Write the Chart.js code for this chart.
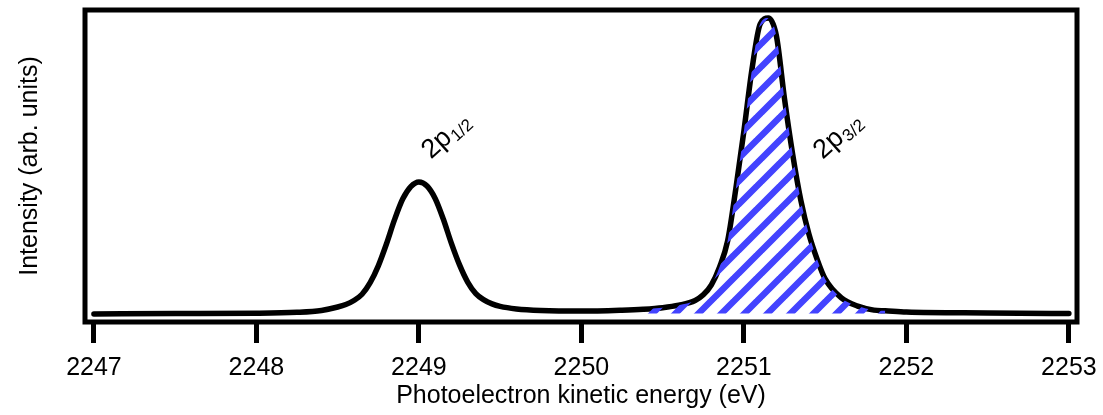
<!DOCTYPE html>
<html>
<head>
<meta charset="utf-8">
<script src="https://cdn.jsdelivr.net/npm/chart.js@4.4.0/dist/chart.umd.min.js"></script>
<style>
  html, body { margin: 0; padding: 0; background: #fff; }
</style>
</head>
<body>
<canvas id="chart" width="1103" height="415"></canvas>
<script>
// photoelectron kinetic energy (eV)
const energy = [
  2247.0, 2247.5, 2248.0, 2248.25, 2248.4, 2248.5, 2248.55, 2248.6, 2248.65,
  2248.7, 2248.75, 2248.8, 2248.85, 2248.9, 2248.95, 2249.0, 2249.05, 2249.1,
  2249.15, 2249.2, 2249.25, 2249.3, 2249.35, 2249.4, 2249.45, 2249.5, 2249.6,
  2249.75, 2250.0, 2250.25, 2250.38, 2250.5, 2250.6, 2250.7, 2250.75, 2250.8,
  2250.85, 2250.9, 2250.95, 2251.0, 2251.05, 2251.1, 2251.15, 2251.2, 2251.25,
  2251.3, 2251.35, 2251.4, 2251.45, 2251.5, 2251.6, 2251.7, 2251.8, 2251.87,
  2252.0, 2252.5, 2253.0
];
// intensity (arb. units)
const intensity = [
  2.6, 2.7, 2.8, 3.1, 3.7, 4.8, 5.6, 6.9, 8.9,
  12.6, 18.0, 25.0, 32.8, 39.4, 43.4, 44.9, 43.6, 39.6,
  33.0, 25.2, 18.3, 12.8, 9.1, 7.1, 5.8, 5.0, 4.2,
  3.7, 3.5, 3.8, 4.1, 4.6, 5.4, 6.9, 8.7, 11.9,
  17.6, 26.0, 42.6, 61.2, 81.1, 95.5, 97.4, 91.7, 71.5,
  53.8, 39.1, 28.2, 20.2, 13.8, 7.7, 5.1, 3.8, 3.6,
  3.2, 2.9, 2.7
];
const tickValues = [2247, 2248, 2249, 2250, 2251, 2252, 2253];
const hatchRange = [2250.38, 2251.87];
const hatchBase = 2.7;
const peakNames = ["2p", "2p"];
const peakSubs = ["1/2", "3/2"];
const peakLabelX = [2249.074, 2251.486];
const peakLabelY = [52.0, 51.9];

const FONT = "'Liberation Sans', Arial, sans-serif";

function makeHatch() {
  const s = 23;
  const c = document.createElement("canvas");
  c.width = s;
  c.height = s;
  const g = c.getContext("2d");
  g.strokeStyle = "#4343ff";
  g.lineWidth = 6.5;
  g.beginPath();
  [-s, 0, s].forEach((x0) => {
    g.moveTo(x0 - 2, s + 2);
    g.lineTo(x0 + s + 2, -2);
  });
  g.stroke();
  return document.getElementById("chart").getContext("2d").createPattern(c, "repeat");
}

const curvePoints = energy.map((e, i) => ({ x: e, y: intensity[i] }));
const hatchPoints = curvePoints.filter(
  (p) => p.x >= hatchRange[0] && p.x <= hatchRange[1]
);

const framePlugin = {
  id: "frame",
  afterDraw(chart) {
    const { ctx, chartArea: a } = chart;
    ctx.save();
    ctx.lineWidth = 5;
    ctx.strokeStyle = "#000";
    ctx.strokeRect(a.left, a.top, a.right - a.left, a.bottom - a.top);
    ctx.restore();
  },
};

const peakLabelPlugin = {
  id: "peakLabels",
  afterDatasetsDraw(chart) {
    const { ctx, scales } = chart;
    peakNames.forEach((name, i) => {
      ctx.save();
      ctx.translate(
        scales.x.getPixelForValue(peakLabelX[i]),
        scales.y.getPixelForValue(peakLabelY[i])
      );
      ctx.rotate((-42 * Math.PI) / 180);
      ctx.fillStyle = "#000";
      ctx.textBaseline = "alphabetic";
      ctx.font = "27px " + FONT;
      ctx.fillText(name, 0, 0);
      const w = ctx.measureText(name).width;
      ctx.font = "17px " + FONT;
      ctx.fillText(peakSubs[i], w + 1, 4);
      ctx.restore();
    });
  },
};

new Chart(document.getElementById("chart").getContext("2d"), {
  type: "line",
  data: {
    datasets: [
      {
        data: hatchPoints,
        borderWidth: 0,
        pointRadius: 0,
        backgroundColor: makeHatch(),
        fill: { value: hatchBase },
        cubicInterpolationMode: "monotone",
      },
      {
        data: curvePoints,
        borderColor: "#000",
        borderWidth: 5.5,
        borderCapStyle: "round",
        borderJoinStyle: "round",
        pointRadius: 0,
        fill: false,
        cubicInterpolationMode: "monotone",
      },
    ],
  },
  options: {
    responsive: false,
    animation: false,
    devicePixelRatio: 1,
    layout: { padding: { top: 10, right: 26, bottom: 0, left: 0 } },
    plugins: { legend: { display: false }, tooltip: { enabled: false } },
    scales: {
      x: {
        type: "linear",
        min: 2246.945,
        max: 2253.05,
        afterBuildTicks: (scale) => {
          scale.ticks = tickValues.map((v) => ({ value: v }));
        },
        afterFit: (scale) => {
          scale.height = 93;
          scale.paddingLeft = 0;
          scale.paddingRight = 0;
        },
        ticks: {
          color: "#000",
          font: { family: FONT, size: 25 },
          padding: 10,
          maxRotation: 0,
          autoSkip: false,
          callback: (v) => String(v),
        },
        grid: {
          drawOnChartArea: false,
          drawTicks: true,
          tickLength: 21,
          tickWidth: 5,
          tickColor: "#000",
        },
        border: { display: false },
        title: {
          display: true,
          text: "Photoelectron kinetic energy (eV)",
          color: "#000",
          font: { family: FONT, size: 25 },
          padding: { top: 0, bottom: 4 },
        },
      },
      y: {
        min: 0,
        max: 100,
        afterFit: (scale) => {
          scale.width = 85;
        },
        ticks: { display: false },
        grid: { display: false },
        border: { display: false },
        title: {
          display: true,
          text: "Intensity (arb. units)",
          color: "#000",
          font: { family: FONT, size: 25 },
          padding: { top: 15, bottom: 0 },
        },
      },
    },
  },
  plugins: [framePlugin, peakLabelPlugin],
});
</script>
</body>
</html>
